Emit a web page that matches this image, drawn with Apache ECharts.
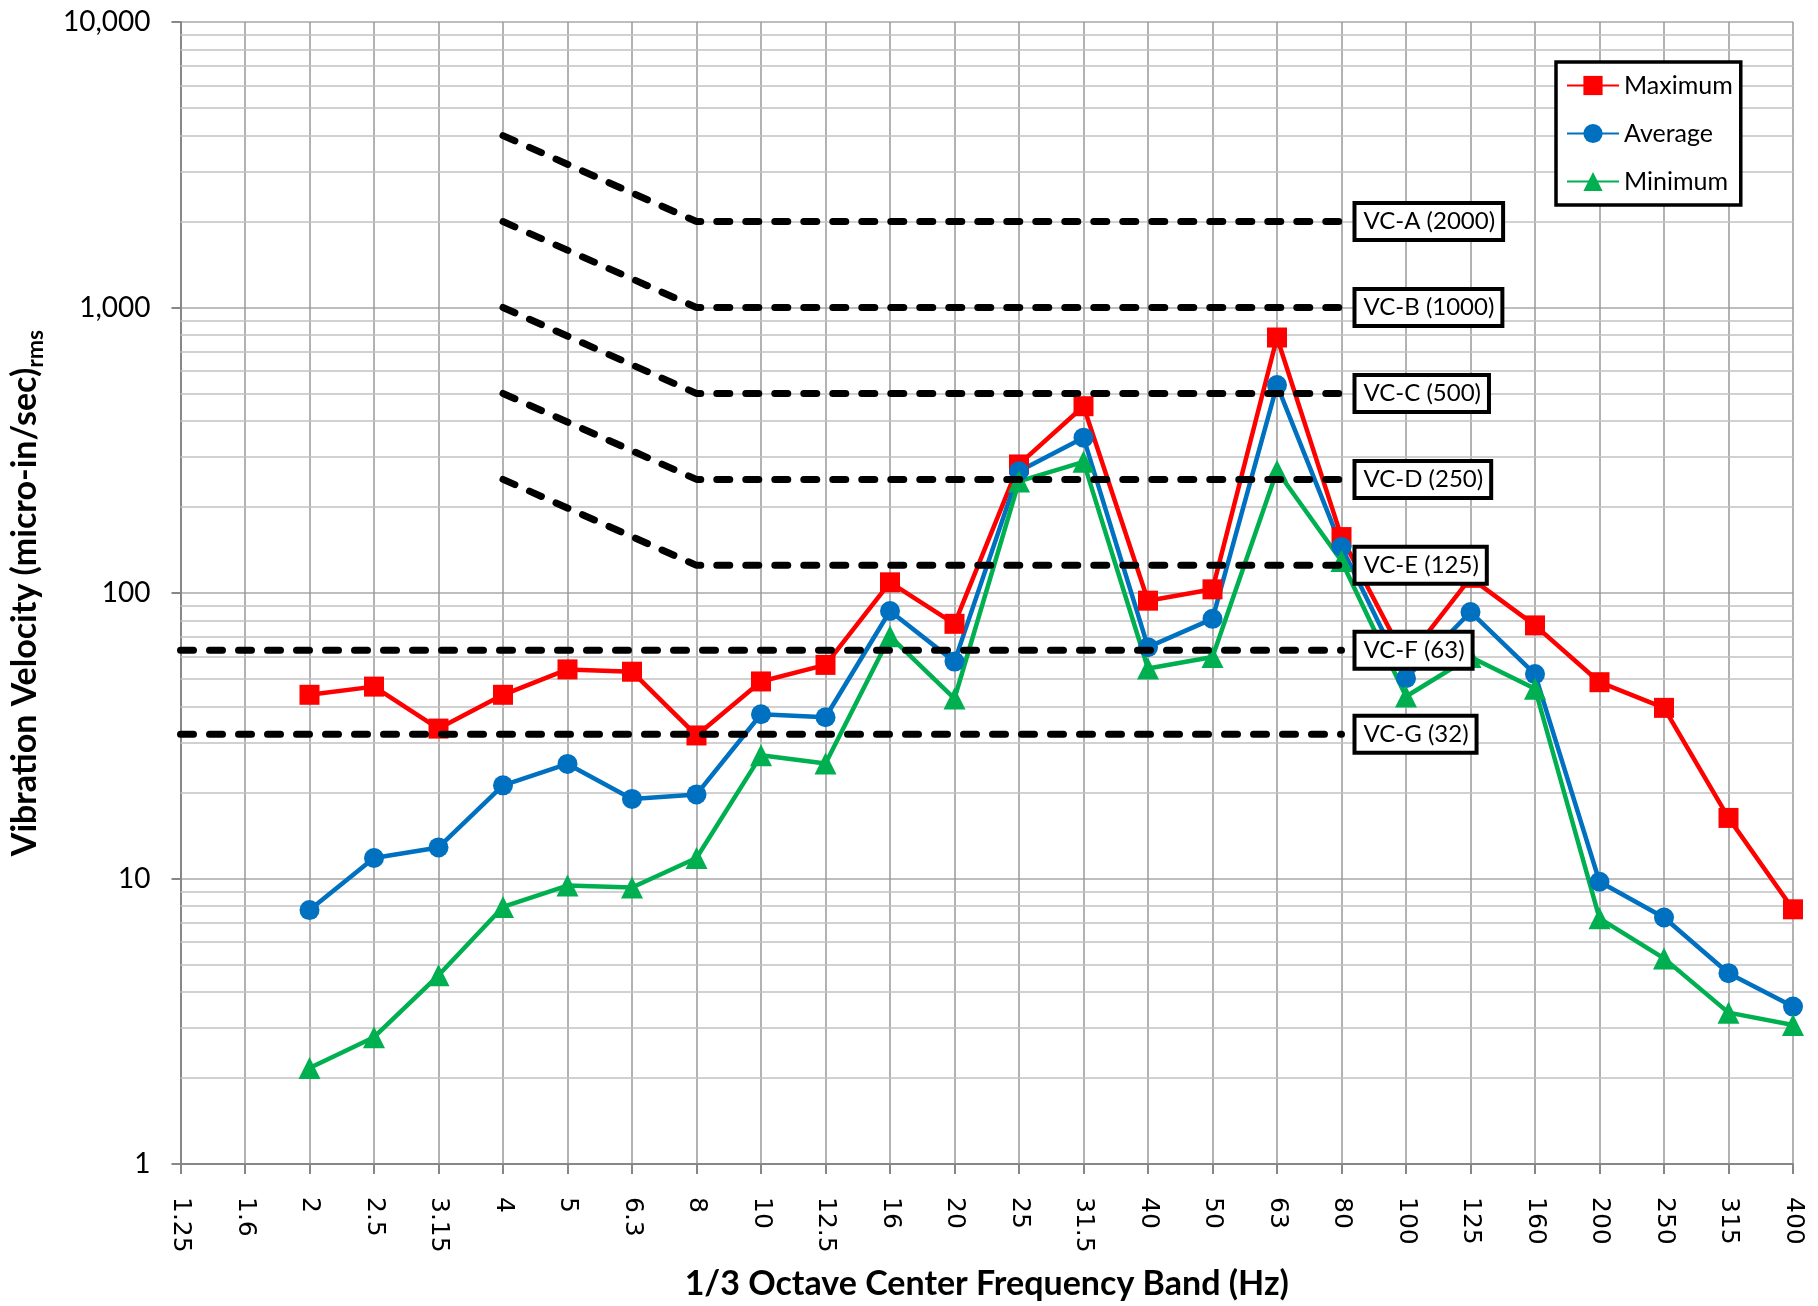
<!DOCTYPE html>
<html>
<head>
<meta charset="utf-8">
<script src="https://cdn.jsdelivr.net/npm/echarts@6/dist/echarts.min.js"></script>
<style>
  html, body { margin: 0; padding: 0; background: #ffffff; }
  #chart { width: 1818px; height: 1306px; }
</style>
</head>
<body>
<div id="chart"></div>
<script>
// 1/3 octave band centre frequencies (Hz)
const bands = ['1.25', '1.6', '2', '2.5', '3.15', '4', '5', '6.3', '8', '10', '12.5', '16', '20',
  '25', '31.5', '40', '50', '63', '80', '100', '125', '160', '200', '250', '315', '400'];

// Measured vibration velocity, micro-in/sec rms
const maximum = [null, null, 44, 47, 33.5, 44, 54, 53, 31.7, 49, 56, 109, 78, 282, 451, 94, 103,
  785, 157, 58, 113, 77, 48.7, 39.6, 16.3, 7.8];
const average = [null, null, 7.75, 11.8, 12.85, 21.2, 25.2, 19, 19.7, 37.6, 36.7, 86.5, 57.5, 267,
  350, 64.6, 81.2, 535, 145, 50.3, 85.8, 52, 9.74, 7.3, 4.66, 3.56];
const minimum = [null, null, 2.17, 2.78, 4.58, 7.95, 9.45, 9.3, 11.8, 27, 25.3, 70.5, 42.7, 246,
  288, 54.4, 59.7, 268, 129.5, 43.4, 59.7, 46.2, 7.25, 5.25, 3.39, 3.07];

// Vibration criterion curves: sloped 4-8 Hz, flat 8-80 Hz
const vcSlopedNames = ['VC-A (2000)', 'VC-B (1000)', 'VC-C (500)', 'VC-D (250)', 'VC-E (125)'];
const vcAt4Hz = [4000, 2000, 1000, 500, 250];
const vcPlateau = [2000, 1000, 500, 250, 125];
const vcFlatNames = ['VC-F (63)', 'VC-G (32)'];
const vcFlatLevel = [63, 32];
const vcSlopeStart = '4', vcSlopeEnd = '8', vcLastBand = '80', firstBand = '1.25';

// Y axis tick labels and minor grid levels
const yTickLabels = { 1: '1', 10: '10', 100: '100', 1000: '1,000', 10000: '10,000' };
const minorGridLevels = [2, 3, 4, 5, 6, 7, 8, 9, 20, 30, 40, 50, 60, 70, 80, 90,
  200, 300, 400, 500, 600, 700, 800, 900, 2000, 3000, 4000, 5000, 6000, 7000, 8000, 9000];

const FONT = 'Lato';

function criterionSeries(name, points) {
  return {
    name: name,
    type: 'line',
    data: points,
    symbol: 'none',
    silent: true,
    z: 5,
    lineStyle: { color: '#000000', width: 7, type: [13, 16], cap: 'round' },
    endLabel: {
      show: true,
      formatter: function () { return name; },
      distance: 15,
      fontFamily: FONT,
      fontSize: 24,
      color: '#000000',
      backgroundColor: '#ffffff',
      borderColor: '#000000',
      borderWidth: 4,
      padding: [5, 6, 4, 7]
    }
  };
}

function dataSeries(name, values, color, symbol, size) {
  return {
    name: name,
    type: 'line',
    data: values,
    symbol: symbol,
    symbolSize: size,
    showSymbol: true,
    z: 3,
    lineStyle: { color: color, width: 4.5 },
    itemStyle: { color: color, borderWidth: 0 }
  };
}

const series = [];

// light minor grid lines of the log axis
series.push({
  name: 'minor-grid',
  type: 'line',
  data: [],
  silent: true,
  z: 1,
  markLine: {
    silent: true,
    animation: false,
    z: 1,
    symbol: ['none', 'none'],
    label: { show: false },
    lineStyle: { color: '#c2c2c2', width: 1.5, type: 'solid' },
    emphasis: { disabled: true },
    data: minorGridLevels.map(function (v) { return { yAxis: v }; })
  }
});

series.push(dataSeries('Maximum', maximum, '#FF0000', 'rect', 20));
series.push(dataSeries('Average', average, '#0070C0', 'circle', 20));
series.push(dataSeries('Minimum', minimum, '#00B050', 'triangle', 22));

vcSlopedNames.forEach(function (name, i) {
  series.push(criterionSeries(name, [
    [vcSlopeStart, vcAt4Hz[i]],
    [vcSlopeEnd, vcPlateau[i]],
    [vcLastBand, vcPlateau[i]]
  ]));
});
vcFlatNames.forEach(function (name, i) {
  series.push(criterionSeries(name, [
    [firstBand, vcFlatLevel[i]],
    [vcLastBand, vcFlatLevel[i]]
  ]));
});

const chart = echarts.init(document.getElementById('chart'), null, { renderer: 'canvas' });
chart.setOption({
  animation: false,
  backgroundColor: '#ffffff',
  grid: { left: 180, right: 25, top: 22, bottom: 141, containLabel: false },
  legend: {
    data: ['Maximum', 'Average', 'Minimum'],
    orient: 'vertical',
    left: 1556,
    top: 62,
    z: 20,
    itemWidth: 52,
    itemHeight: 24,
    itemGap: 23,
    padding: [11, 8, 11, 10],
    backgroundColor: '#ffffff',
    borderColor: '#000000',
    borderWidth: 3.5,
    textStyle: { fontFamily: FONT, fontSize: 25, color: '#000000' }
  },
  xAxis: {
    type: 'category',
    data: bands,
    boundaryGap: false,
    name: '1/3 Octave Center Frequency Band (Hz)',
    nameLocation: 'middle',
    nameGap: 103,
    nameTextStyle: { fontFamily: FONT, fontWeight: 'bold', fontSize: 34, color: '#000000' },
    axisLine: { show: true, onZero: false, lineStyle: { color: '#878787', width: 2 } },
    axisTick: { show: true, interval: 0, length: 10, lineStyle: { color: '#878787', width: 2 } },
    axisLabel: {
      interval: 0, rotate: -90, margin: 33,
      fontFamily: 'DejaVu Sans', fontSize: 25, color: '#000000'
    },
    splitLine: { show: true, interval: 0, lineStyle: { color: '#999999', width: 1.5 } }
  },
  yAxis: {
    type: 'log',
    logBase: 10,
    min: 1,
    max: 10000,
    name: '{a|Vibration Velocity (micro-in/sec)}{b|rms}',
    nameLocation: 'middle',
    nameRotate: 90,
    nameGap: 133,
    nameTextStyle: {
      rich: {
        a: { fontFamily: FONT, fontWeight: 'bold', fontSize: 34, color: '#000000', lineHeight: 45, verticalAlign: 'middle' },
        b: { fontFamily: FONT, fontWeight: 'bold', fontSize: 23, color: '#000000', lineHeight: 23, verticalAlign: 'bottom' }
      }
    },
    axisLine: { show: true, lineStyle: { color: '#878787', width: 2 } },
    axisTick: { show: true, length: 9, lineStyle: { color: '#878787', width: 2 } },
    axisLabel: {
      margin: 30,
      fontFamily: FONT, fontSize: 28, color: '#000000',
      formatter: function (v) { return yTickLabels[Math.round(v)] || ''; }
    },
    splitLine: { show: true, lineStyle: { color: '#a8a8a8', width: 1.5 } }
  },
  series: series
});
</script>
</body>
</html>
